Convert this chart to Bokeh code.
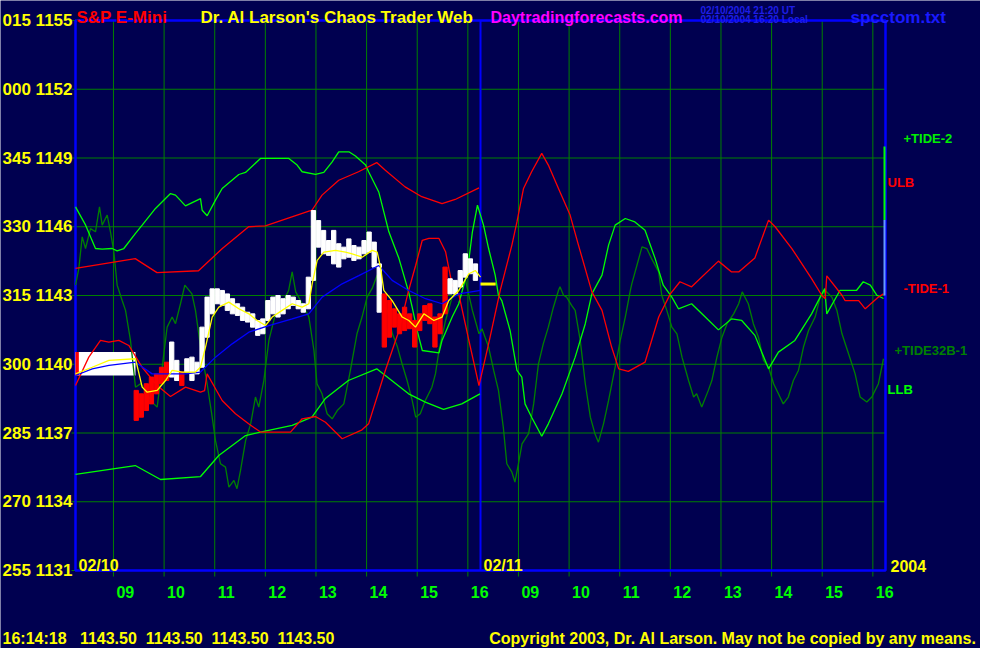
from bokeh.plotting import figure
from bokeh.models import Range1d, ColumnDataSource, Label
from bokeh.core.properties import value
from bokeh.embed import file_html
from bokeh.resources import INLINE

# ---------------- data ----------------
y_ticks = [1131, 1134, 1137, 1140, 1143, 1146, 1149, 1152, 1155]
y_tick_labels = ["255 1131", "270 1134", "285 1137", "300 1140", "315 1143",
                 "330 1146", "345 1149", "000 1152", "015 1155"]
hour_pos = [0.75, 1.75, 2.75, 3.75, 4.75, 5.75, 6.75, 7.75,
            8.75, 9.75, 10.75, 11.75, 12.75, 13.75, 14.75, 15.75]
hour_labels = ["09", "10", "11", "12", "13", "14", "15", "16",
               "09", "10", "11", "12", "13", "14", "15", "16"]
day_break = 8.0

ulb_t = [0, 1.18, 1.61, 2.43, 2.9, 3.42, 3.75, 4.61, 4.67, 4.87, 5.2, 5.59, 5.95, 6.12, 6.51, 6.84, 7.24, 7.5, 7.97]
ulb_v = [1144.18, 1144.61, 1144.0, 1144.08, 1145.05, 1146.0, 1146.04, 1146.68, 1146.72, 1147.38,
         1148.03, 1148.40, 1148.80, 1148.47, 1147.74, 1147.31, 1147.01, 1147.19, 1147.70]

llb_t = [0, 1.18, 1.68, 2.47, 2.83, 3.36, 3.65, 4.28, 4.67, 4.93, 5.39, 5.95, 6.12, 6.58, 6.91, 7.27, 7.63, 7.99]
llb_v = [1135.19, 1135.58, 1134.97, 1135.10, 1136.02, 1136.89, 1137.04, 1137.33, 1137.69, 1138.49,
         1139.29, 1139.80, 1139.51, 1138.71, 1138.35, 1138.03, 1138.27, 1138.71]

tide2_t = [0, .20, .395, .527, .724, .823, .955, 1.185, 1.317, 1.58,
           1.877, 1.975, 2.173, 2.469, 2.502, 2.601, 2.765, 2.897, 3.226, 3.358,
           3.654, 4.214, 4.378, 4.477, 4.741, 4.905, 5.07, 5.2, 5.4, 5.53,
           5.73, 5.79, 5.99, 6.19, 6.39, 6.58, 6.65, 6.75, 6.85, 7.18,
           7.24, 7.44, 7.57, 7.74, 7.84, 7.94, 8.06, 8.16, 8.29, 8.355,
           8.42, 8.585, 8.72, 8.816, 8.88, 9.01, 9.21, 9.34, 9.61, 9.87,
           10.07, 10.2, 10.4, 10.53, 10.66, 10.86, 11.05, 11.25, 11.45, 11.61,
           11.78, 11.91, 12.17, 12.44, 12.7, 12.96, 13.16, 13.42, 13.69, 13.885,
           14.21, 14.54, 14.71, 14.8, 14.84, 15.1, 15.43, 15.56, 15.7, 15.83,
           15.96]
tide2_v = [1146.87, 1146.07, 1145.05, 1145.02, 1145.05, 1144.95, 1145.05, 1145.71, 1146.07, 1146.8,
           1147.45, 1147.38, 1146.91, 1147.23, 1146.72, 1146.48, 1147.16, 1147.67, 1148.28, 1148.37,
           1148.98, 1148.98, 1148.69, 1148.40, 1148.29, 1148.37, 1148.83, 1149.27, 1149.27, 1149.09,
           1148.69, 1148.40, 1147.52, 1145.78, 1144.61, 1143.16, 1142.49, 1141.47, 1140.6, 1140.5,
           1141.04, 1142.06, 1142.64, 1144.03, 1145.78, 1146.94, 1146.07, 1145.05, 1143.89, 1143.01,
           1142.78, 1141.47, 1139.73, 1139.44, 1138.27, 1137.69, 1136.86, 1137.4, 1138.71, 1140.31,
           1141.77, 1143.07, 1143.89, 1145.2, 1146.07, 1146.36, 1146.21, 1145.85, 1144.61, 1143.45,
           1142.93, 1142.42, 1142.64, 1142.06, 1141.5, 1141.98, 1141.91, 1141.26, 1139.8, 1140.53,
           1141.04, 1142.2, 1142.93, 1143.3, 1142.2, 1143.22, 1143.23, 1143.6, 1143.45, 1143.01,
           1142.87]

tide1_t = [0, .263, .494, .658, .856, 1.053, 1.317, 1.613, 1.876, 2.173,
           2.469, 2.55, 2.6, 2.897, 3.16, 3.42, 3.654, 4.247, 4.477, 4.741,
           4.938, 5.267, 5.66, 5.79, 6.12, 6.39, 6.58, 6.72, 6.85, 6.98,
           7.18, 7.31, 7.44, 7.57, 7.77, 7.97, 8.16, 8.39, 8.62, 8.72,
           8.85, 9.01, 9.21, 9.34, 9.57, 9.77, 9.935, 10.2, 10.4, 10.59,
           10.73, 10.92, 11.25, 11.52, 11.75, 11.94, 12.17, 12.7, 12.96, 13.1,
           13.42, 13.69, 13.82, 14.15, 14.54, 14.74, 14.81, 14.84, 15.14, 15.2,
           15.47, 15.6, 15.86, 15.96]
tide1_v = [1139.07, 1140.31, 1141.04, 1140.97, 1141.04, 1140.82, 1139.87, 1139.07, 1138.59, 1139.0,
           1138.78, 1138.85, 1139.58, 1138.42, 1137.84, 1137.4, 1137.04, 1137.04, 1137.62, 1137.72,
           1137.47, 1136.75, 1137.14, 1137.4, 1139.73, 1141.47, 1143.22, 1144.32, 1145.41, 1145.49,
           1145.49, 1144.91, 1143.45, 1143.07, 1141.04, 1139.07, 1140.89, 1143.22, 1145.2, 1146.21,
           1147.67, 1148.4, 1149.2, 1148.69, 1147.52, 1146.51, 1145.2, 1143.16, 1142.35, 1140.75,
           1139.8, 1139.69, 1140.09, 1142.06, 1143.07, 1143.6, 1143.38, 1144.5, 1144.03, 1144.03,
           1144.64, 1146.29, 1146.0, 1145.05, 1143.74, 1143.01, 1142.86, 1143.86, 1143.01, 1142.78,
           1142.78, 1142.42, 1142.93, 1143.07]

tide32b_t = [0, .066, .132, .198, .296, .395, .474, .527, .626, .691,
             .757, .823, .922, .988, 1.086, 1.185, 1.284, 1.383, 1.449, 1.547,
             1.613, 1.712, 1.81, 1.909, 1.975, 2.074, 2.16, 2.3, 2.37, 2.47,
             2.6, 2.7, 2.765, 2.864, 2.963, 3.03, 3.13, 3.19, 3.26, 3.36,
             3.46, 3.555, 3.62, 3.72, 3.82, 3.95, 4.08, 4.21, 4.28, 4.35,
             4.48, 4.61, 4.71, 4.77, 4.87, 4.97, 5.07, 5.17, 5.3, 5.43,
             5.56, 5.66, 5.76, 5.86, 5.96, 6.02, 6.16, 6.26, 6.36, 6.45,
             6.55, 6.65, 6.72, 6.81, 6.91, 7.04, 7.11, 7.18, 7.31, 7.44,
             7.57, 7.7, 7.84, 7.97, 8.03, 8.09, 8.16, 8.26, 8.355, 8.45,
             8.52, 8.62, 8.68, 8.75, 8.82, 8.95, 9.05, 9.145, 9.24, 9.34,
             9.44, 9.54, 9.57, 9.64, 9.7, 9.8, 9.87, 9.97, 10.07, 10.17,
             10.26, 10.33, 10.43, 10.53, 10.66, 10.76, 10.86, 10.96, 10.99, 11.09,
             11.19, 11.285, 11.38, 11.52, 11.58, 11.68, 11.78, 11.88, 11.98, 12.11,
             12.21, 12.27, 12.37, 12.5, 12.57, 12.67, 12.77, 12.87, 13.0, 13.1,
             13.17, 13.29, 13.39, 13.49, 13.59, 13.69, 13.79, 13.885, 13.98, 14.08,
             14.18, 14.28, 14.38, 14.48, 14.61, 14.71, 14.81, 14.87, 14.94, 15.04,
             15.14, 15.27, 15.4, 15.5, 15.63, 15.73, 15.86, 15.96]
tide32b_v = [1143.45, 1144.18, 1145.56, 1145.05, 1145.92, 1145.78, 1146.87, 1146.07, 1146.51, 1145.78,
             1144.91, 1143.45, 1142.78, 1142.35, 1141.04, 1139.0, 1139.15, 1138.86, 1138.57, 1138.27,
             1138.13, 1139.87, 1141.62, 1142.06, 1141.77, 1142.64, 1143.45, 1143.07, 1142.35, 1140.75,
             1139.15, 1137.69, 1136.67, 1135.66, 1135.51, 1134.64, 1134.93, 1134.57, 1135.37, 1136.67,
             1137.4, 1138.57, 1138.13, 1139.29, 1141.04, 1142.2, 1142.64, 1143.22, 1144.03, 1143.16,
             1142.64, 1142.06, 1140.6, 1139.15, 1138.71, 1137.84, 1137.62, 1137.98, 1138.27, 1139.73,
             1141.33, 1142.06, 1142.93, 1143.31, 1143.89, 1143.16, 1142.35, 1141.33, 1140.75, 1140.02,
             1139.29, 1138.42, 1137.69, 1137.84, 1138.42, 1139.0, 1139.58, 1140.6, 1141.91, 1142.93,
             1143.22, 1143.7, 1142.35, 1141.33, 1141.55, 1141.18, 1140.75, 1139.73, 1138.86, 1137.26,
             1135.66, 1135.29, 1134.86, 1135.66, 1136.53, 1136.97, 1138.27, 1140.02, 1140.89, 1141.62,
             1142.49, 1143.22, 1143.38, 1143.01, 1142.93, 1142.57, 1142.35, 1141.04, 1139.15, 1137.69,
             1136.97, 1136.6, 1137.4, 1138.42, 1139.87, 1141.04, 1142.06, 1143.22, 1143.52, 1144.32,
             1145.12, 1145.05, 1144.61, 1144.03, 1143.01, 1142.35, 1141.62, 1141.33, 1140.31, 1139.29,
             1138.57, 1138.71, 1138.13, 1138.86, 1139.29, 1140.31, 1141.18, 1141.77, 1142.2, 1142.64,
             1143.16, 1142.64, 1141.77, 1141.18, 1140.17, 1139.87, 1139.15, 1138.71, 1138.27, 1138.57,
             1139.29, 1139.73, 1140.75, 1141.47, 1142.06, 1142.93, 1143.22, 1143.09, 1142.93, 1142.35,
             1141.33, 1140.46, 1139.58, 1138.57, 1138.35, 1138.57, 1139.15, 1140.24]

fast_ma_t = [0, .33, .66, 1.185, 1.317, 1.416, 1.613, 1.778, 1.909, 2.107,
             2.37, 2.469, 2.568, 2.7, 2.831, 3.029, 3.226, 3.424, 3.588, 3.753,
             3.885, 4.082, 4.28, 4.477, 4.609, 4.675, 4.774, 4.905, 5.136, 5.333,
             5.465, 5.663, 5.86, 5.959, 6.025, 6.09, 6.255, 6.453, 6.584, 6.716,
             6.881, 7.078, 7.243, 7.374, 7.572, 7.77, 7.9, 8.0]
fast_ma_v = [1139.58, 1139.87, 1140.17, 1140.24, 1139.0, 1138.78, 1138.86, 1139.29, 1139.73, 1139.66,
             1139.66, 1139.87, 1140.75, 1142.06, 1142.49, 1142.71, 1142.42, 1142.2, 1141.91, 1141.69,
             1142.06, 1142.35, 1142.64, 1142.49, 1142.64, 1143.51, 1144.53, 1144.89, 1144.97, 1144.89,
             1144.82, 1144.67, 1144.97, 1144.89, 1144.24, 1143.22, 1142.78, 1142.06, 1141.91, 1141.62,
             1142.2, 1141.91, 1142.06, 1142.78, 1143.22, 1143.95, 1144.09, 1143.8]

slow_ma_t = [0, .33, .66, 1.185, 1.514, 1.844, 2.173, 2.469, 2.765, 3.095,
             3.424, 3.819, 4.28, 4.609, 4.872, 5.267, 5.597, 5.992, 6.255, 6.584,
             6.914, 7.243, 7.572, 8.0]
slow_ma_v = [1139.51, 1139.8, 1139.95, 1140.09, 1139.58, 1139.58, 1139.58, 1139.66, 1140.31, 1140.89,
             1141.4, 1141.69, 1141.98, 1142.2, 1142.93, 1143.51, 1143.87, 1144.31, 1143.66, 1143.22,
             1142.86, 1142.64, 1143.07, 1143.22]

bar_t = [1.2, 1.3, 1.4, 1.5, 1.6, 1.7, 1.8, 1.9, 2.0, 2.1,
         2.2, 2.3, 2.4, 2.5, 2.6, 2.7, 2.8, 2.9, 3.0, 3.1,
         3.2, 3.3, 3.4, 3.5, 3.6, 3.7, 3.8, 3.9, 4.0, 4.1,
         4.2, 4.3, 4.4, 4.5, 4.6, 4.7, 4.8, 4.9, 5.0, 5.1,
         5.2, 5.3, 5.4, 5.5, 5.6, 5.7, 5.8, 5.9, 6.0, 6.1,
         6.2, 6.3, 6.4, 6.5, 6.6, 6.7, 6.8, 6.9, 7.0, 7.1,
         7.2, 7.3, 7.4, 7.5, 7.6, 7.7, 7.8, 7.9]
bar_hi = [1138.86, 1138.71, 1139.15, 1139.44, 1139.58, 1139.87, 1140.09, 1140.97, 1140.17, 1139.66,
          1140.24, 1140.31, 1140.09, 1141.62, 1142.93, 1143.29, 1143.29, 1143.22, 1143.07, 1142.86,
          1142.64, 1142.49, 1142.27, 1142.2, 1141.91, 1141.98, 1142.78, 1142.93, 1143.0, 1142.86,
          1143.0, 1142.93, 1142.78, 1142.64, 1143.8, 1146.71, 1146.27, 1145.84, 1145.4, 1145.84,
          1145.26, 1145.11, 1145.47, 1145.18, 1145.11, 1145.4, 1145.77, 1145.33, 1144.38, 1143.07,
          1142.78, 1142.42, 1142.2, 1142.49, 1142.2, 1141.91, 1142.2, 1142.56, 1142.64, 1142.06,
          1142.2, 1144.24, 1143.73, 1143.66, 1144.09, 1144.82, 1144.6, 1144.38]
bar_lo = [1137.55, 1137.69, 1137.98, 1138.27, 1138.71, 1139.15, 1139.29, 1139.44, 1139.29, 1139.07,
          1139.66, 1139.29, 1139.58, 1139.87, 1141.18, 1142.2, 1142.64, 1142.57, 1142.35, 1142.2,
          1142.13, 1141.91, 1141.84, 1141.62, 1141.26, 1141.33, 1141.91, 1142.2, 1142.06, 1142.2,
          1142.42, 1142.57, 1142.42, 1142.27, 1142.42, 1143.66, 1145.11, 1144.82, 1144.75, 1144.38,
          1144.24, 1144.6, 1144.67, 1144.53, 1144.6, 1144.82, 1144.89, 1144.24, 1142.27, 1140.75,
          1141.18, 1141.62, 1141.33, 1141.47, 1141.55, 1140.75, 1141.47, 1141.91, 1141.77, 1140.75,
          1141.33, 1142.2, 1143.07, 1143.07, 1143.37, 1143.8, 1143.95, 1143.66]
bar_dir = ["d", "d", "d", "d", "d", "d", "d", "u", "u", "d",
           "u", "u", "u", "u", "u", "u", "u", "u", "u", "u",
           "u", "u", "u", "u", "u", "u", "u", "u", "u", "u",
           "u", "u", "u", "u", "u", "u", "u", "u", "u", "u",
           "u", "u", "u", "u", "u", "u", "u", "u", "u", "d",
           "d", "d", "d", "d", "d", "d", "d", "d", "d", "d",
           "d", "d", "u", "u", "u", "u", "u", "u"]

pre_left = [0.0, 0.0]
pre_right = [1.185, 0.066]
pre_lo = [1139.51, 1139.51]
pre_hi = [1140.53, 1140.53]
pre_dir = ["u", "d"]

last_price = 1143.50
last_price_t = [8.0, 8.3]

edge_t = [15.98, 15.98]
edge_lo = [1146.3, 1143.0]
edge_hi = [1149.5, 1146.3]

# ---------------- layout ----------------
W, H = 980, 648
FR_L, FR_T, FR_R, FR_B = 75, 20, 885, 570   # plot area, in page pixels
X0, X1, Y0, Y1 = 0.0, 16.0, 1131.0, 1155.0  # plot area, in data units

BG = "#000050"
GRID = "#008000"
LIME = "#00ff00"
RED = "#ff0000"
YEL = "#ffff00"
BLUE = "#0000ff"
FONT = "Liberation Sans"


def X(px):
    return X0 + (px - FR_L) / (FR_R - FR_L) * (X1 - X0)


def Y(py):
    return Y1 - (py - FR_T) / (FR_B - FR_T) * (Y1 - Y0)


p = figure(width=W, height=H, output_backend="svg", toolbar_location=None, title=None,
           x_range=Range1d(X(0), X(W)), y_range=Range1d(Y(H), Y(0)),
           min_border=0)
p.min_border_left = p.min_border_right = p.min_border_top = p.min_border_bottom = 0
p.background_fill_color = BG
p.border_fill_color = BG
p.outline_line_color = None
p.xaxis.visible = False
p.yaxis.visible = False
p.grid.visible = False

# grid, ticks, borders of the price panel
nh, ny = len(hour_pos), len(y_ticks)
p.segment(x0=hour_pos, x1=hour_pos, y0=[Y0] * nh, y1=[Y1] * nh, line_color=GRID, line_width=1)
p.segment(x0=[X0] * ny, x1=[X1] * ny, y0=y_ticks, y1=y_ticks, line_color=GRID, line_width=1)
p.segment(x0=hour_pos, x1=hour_pos, y0=[Y0] * nh, y1=[Y(576)] * nh, line_color=GRID, line_width=1)
p.segment(x0=[X(71)] * ny, x1=[X0] * ny, y0=y_ticks, y1=y_ticks, line_color=GRID, line_width=1)
p.segment(x0=[day_break], x1=[day_break], y0=[Y0], y1=[Y1], line_color=BLUE, line_width=2)
p.quad(left=[X0], right=[X1], bottom=[Y0], top=[Y1], fill_color=None, line_color=BLUE, line_width=2.5)

# pre-session box
p.quad(left=pre_left, right=pre_right, bottom=pre_lo, top=pre_hi,
       fill_color=["#ffffff" if d == "u" else RED for d in pre_dir], line_color=None)

# cycle curves and bands
LW = 1.3
p.line(tide32b_t, tide32b_v, line_color=GRID, line_width=LW)
p.line(llb_t, llb_v, line_color=LIME, line_width=LW)
p.line(tide2_t, tide2_v, line_color=LIME, line_width=LW)
p.line(ulb_t, ulb_v, line_color=RED, line_width=LW)
p.line(tide1_t, tide1_v, line_color=RED, line_width=LW)

# price bars
cols = ["#ffffff" if d == "u" else RED for d in bar_dir]
src = ColumnDataSource(dict(t=bar_t, hi=bar_hi, lo=bar_lo, c=cols))
p.vbar(x="t", top="hi", bottom="lo", width=0.085, fill_color="c", line_color="c", source=src)

p.line(slow_ma_t, slow_ma_v, line_color=BLUE, line_width=LW)
p.line(fast_ma_t, fast_ma_v, line_color=YEL, line_width=LW)
p.line(last_price_t, [last_price] * len(last_price_t), line_color=YEL, line_width=3)

p.segment(x0=edge_t, x1=edge_t, y0=edge_lo, y1=edge_hi,
          line_color=[LIME, "#6699ff"], line_width=2)

# tick labels
p.text(x=[X(72)] * ny, y=y_ticks, text=y_tick_labels, text_align="right",
       text_baseline="alphabetic", text_color=YEL, text_font=value(FONT),
       text_font_size=value("17px"), text_font_style="bold")
p.text(x=hour_pos, y=[Y(591)] * nh, text=hour_labels, x_offset=3, text_align="left",
       text_baseline="alphabetic", text_color=LIME, text_font=value(FONT),
       text_font_size=value("16px"), text_font_style="bold")


def add_text(txt, px, py, color, size, align="left", baseline="alphabetic"):
    p.add_layout(Label(x=X(px), y=Y(py), text=txt, text_color=color, text_font=FONT,
                       text_font_size=f"{size}px", text_font_style="bold",
                       text_align=align, text_baseline=baseline))


add_text("S&P E-Mini", 76, 17, RED, 17)
add_text("Dr. Al Larson's Chaos Trader Web", 200, 17, YEL, 17)
add_text("Daytradingforecasts.com", 490, 17, "#ff00ff", 16)
add_text("spcctom.txt", 850, 17, "#1a1aff", 17)
add_text("02/10/2004 21:20 UT", 700, 9.5, "#1e1ee6", 10)
add_text("02/10/2004 16:20 Local", 700, 18.5, "#1e1ee6", 10)

add_text("02/10", 78, 565, YEL, 16)
add_text("02/11", 483, 565, YEL, 16)
add_text("2004", 890, 565, YEL, 16)

add_text("+TIDE-2", 903, 138, "#00ee00", 13, baseline="middle")
add_text("ULB", 887, 182, RED, 13, baseline="middle")
add_text("-TIDE-1", 903, 288, RED, 13, baseline="middle")
add_text("+TIDE32B-1", 894, 350, GRID, 13, baseline="middle")
add_text("LLB", 887, 389, LIME, 13, baseline="middle")

add_text("16:14:18\u00a0\u00a0 1143.50\u00a0 1143.50\u00a0 1143.50\u00a0 1143.50",
         2, 638, YEL, 16)
add_text("Copyright 2003, Dr. Al Larson. May not be copied by any means.",
         976, 638, YEL, 16, align="right")

open("out.html", "w").write(file_html(p, INLINE))
